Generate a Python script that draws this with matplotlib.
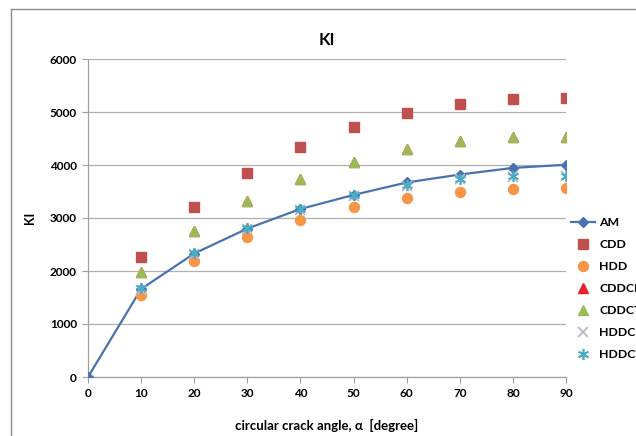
import matplotlib
matplotlib.use("Agg")
import matplotlib.pyplot as plt
from matplotlib.lines import Line2D

angles = [0, 10, 20, 30, 40, 50, 60, 70, 80, 90]
angles_pts = [10, 20, 30, 40, 50, 60, 70, 80, 90]
am = [0, 1660, 2330, 2800, 3170, 3435, 3670, 3820, 3945, 4005]
cdd = [2270, 3200, 3855, 4345, 4715, 4975, 5150, 5245, 5265]
hdd = [1555, 2190, 2635, 2965, 3215, 3385, 3490, 3540, 3560]
cddce = [1975, 2760, 3320, 3745, 4065, 4300, 4450, 4520, 4530]
cddct = [1975, 2760, 3320, 3745, 4065, 4300, 4450, 4520, 4530]
hddce = [1650, 2320, 2790, 3150, 3420, 3610, 3730, 3780, 3790]
hddct = [1670, 2340, 2810, 3170, 3440, 3625, 3745, 3795, 3800]
yticks = [0, 1000, 2000, 3000, 4000, 5000, 6000]
xticks = [0, 10, 20, 30, 40, 50, 60, 70, 80, 90]

plt.rcParams['font.family'] = ['Lato', 'DejaVu Sans']

fig = plt.figure(figsize=(6.36, 4.36), dpi=100)
ax = fig.add_axes([88/636, 1-377/436, (566-88)/636, (377-59)/436])

# chart border
fig.add_artist(Line2D([11/636, 11/636], [0, 1-9/436], transform=fig.transFigure, color='#8c8c8c', lw=1.0))
fig.add_artist(Line2D([11/636, 1], [1-9/436, 1-9/436], transform=fig.transFigure, color='#8c8c8c', lw=1.0))

ax.plot(angles, am, color='#4a72b0', lw=1.6, marker='D', ms=5, mfc='#4a72b0', mec='#4a72b0', label='AM', zorder=3)
ax.plot(angles_pts, cdd, ls='none', marker='s', ms=7.2, color='#c0504d', label='CDD', zorder=4)
ax.plot(angles_pts, hdd, ls='none', marker='o', ms=7.2, color='#f79646', label='HDD', zorder=4)
ax.plot(angles_pts, cddce, ls='none', marker='^', ms=7.5, color='#e8202a', label='CDDCE', zorder=4)
ax.plot(angles_pts, cddct, ls='none', marker='^', ms=7.5, color='#9bbb59', label='CDDCT', zorder=5)
ax.plot(angles_pts, hddce, ls='none', marker='x', ms=7, mew=1.3, color='#b8b8c8', label='HDDCE', zorder=5)
ax.plot(angles_pts, hddct, ls='none', marker=(6, 2, 0), ms=8, mew=1.2, color='#4bacc6', label='HDDCT', zorder=5)

ax.set_xlim(0, 90)
ax.set_ylim(0, 6000)
ax.set_xticks(xticks)
ax.set_yticks(yticks)
ax.grid(axis='y', color='#b0b0b0', lw=0.9)
ax.set_axisbelow(True)
for s in ['top', 'right']:
    ax.spines[s].set_visible(False)
for s in ['left', 'bottom']:
    ax.spines[s].set_color('#a0a0a0')
    ax.spines[s].set_linewidth(0.9)
ax.tick_params(axis='both', direction='out', length=4, color='#a0a0a0', labelsize=8.5, pad=4)
for lab in ax.get_xticklabels() + ax.get_yticklabels():
    lab.set_fontweight('bold')
ax.set_title('KI', fontsize=12, fontweight='bold', pad=10)
ax.set_ylabel('KI', fontsize=9, fontweight='bold', labelpad=10)
ax.set_xlabel('circular crack angle, α  [degree]', fontsize=9.5, fontweight='bold', labelpad=14)

leg = ax.legend(loc='upper left', bbox_to_anchor=(566/636, 1-212/436), bbox_transform=fig.transFigure,
                frameon=False, fontsize=8.8, handlelength=2.0, handletextpad=0.3, labelspacing=0.9,
                borderaxespad=0)
for t in leg.get_texts():
    t.set_fontweight('bold')

fig.savefig('out.png', dpi=100)
